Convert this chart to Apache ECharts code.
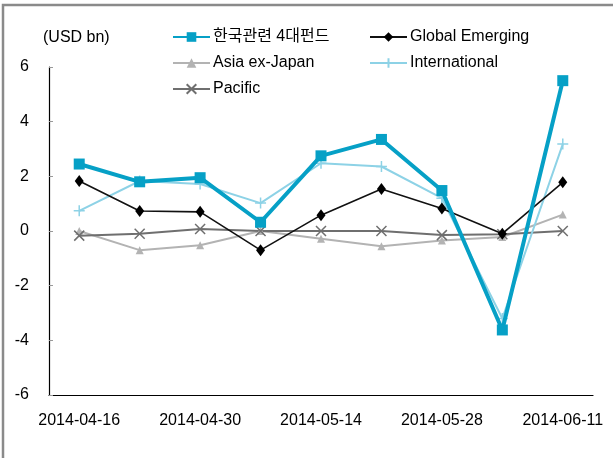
<!DOCTYPE html>
<html>
<head>
<meta charset="utf-8">
<script src="https://cdn.jsdelivr.net/npm/echarts@6/dist/echarts.min.js"></script>
<style>
    html, body { margin: 0; padding: 0; background: #fff; }
    #main { width: 613px; height: 458px; }
</style>
</head>
<body>
<div id="main"></div>
<script>
// weekly dates, labels shown every 2nd week
const dates = ['2014-04-16', '2014-04-23', '2014-04-30', '2014-05-07', '2014-05-14',
               '2014-05-21', '2014-05-28', '2014-06-04', '2014-06-11'];
const korea4 = [2.45, 1.8, 1.95, 0.32, 2.75, 3.35, 1.48, -3.62, 5.5];
const globalEm = [1.83, 0.73, 0.7, -0.7, 0.58, 1.54, 0.82, -0.1, 1.78];
const asiaExJp = [0.0, -0.7, -0.52, 0.0, -0.28, -0.56, -0.35, -0.22, 0.6];
const intl = [0.74, 1.83, 1.72, 1.02, 2.48, 2.36, 1.2, -3.2, 3.18];
const pacific = [-0.17, -0.1, 0.07, 0.0, 0.0, 0.0, -0.15, -0.12, 0.0];
const yTicks = [-6, -4, -2, 0, 2, 4, 6];

const FONT = '"Liberation Sans", Arial, "Noto Sans CJK KR", sans-serif';
const plusPath = 'path://M5,0L5,10M0,5L10,5';
const crossPath = 'path://M0,0L10,10M10,0L0,10';

const chart = echarts.init(document.getElementById('main'));

const legendText = { fontSize: 16, color: '#000', fontFamily: FONT, padding: [0, 0, 0, -2] };

const option = {
    animation: false,
    textStyle: { fontFamily: FONT },
    graphic: [
        {
            // outer frame (only left / top edges visible)
            type: 'rect',
            shape: { x: 3, y: 5, width: 800, height: 800 },
            style: { fill: 'none', stroke: '#8a8a8a', lineWidth: 2.5 },
            silent: true
        },
        {
            type: 'text',
            left: 43, top: 30,
            style: { text: '(USD bn)', font: '16px ' + FONT, fill: '#000' }
        }
    ],
    legend: [
        {
            data: ['한국관련 4대펀드', 'Asia ex-Japan', 'Pacific'],
            orient: 'vertical',
            left: 167, top: 24,
            itemWidth: 37, itemHeight: 12, itemGap: 10,
            textStyle: legendText
        },
        {
            data: ['Global Emerging', 'International'],
            orient: 'vertical',
            left: 364, top: 24,
            itemWidth: 37, itemHeight: 12, itemGap: 10,
            textStyle: legendText
        }
    ],
    grid: { left: 49, right: 20, top: 67, bottom: 63 },
    xAxis: [
        {
            type: 'category',
            data: dates,
            boundaryGap: true,
            axisLine: { show: false },
            axisTick: { show: false },
            axisLabel: { interval: 1, fontSize: 16, color: '#000', margin: 18, fontFamily: FONT }
        },
        {
            type: 'category',
            data: dates,
            position: 'bottom',
            boundaryGap: true,
            axisLine: { onZero: true, lineStyle: { color: '#000', width: 1.2 } },
            axisTick: { inside: true, length: 5, lineStyle: { color: '#888' } },
            axisLabel: { show: false }
        }
    ],
    yAxis: {
        type: 'value',
        min: yTicks[0], max: yTicks[yTicks.length - 1], interval: 2,
        splitLine: { show: false },
        axisLine: { show: true, lineStyle: { color: '#000', width: 1.2 } },
        axisTick: { show: true, inside: true, length: 4, lineStyle: { color: '#999' } },
        axisLabel: { fontSize: 16, color: '#000', margin: 20, fontFamily: FONT }
    },
    series: [
        {
            name: 'Global Emerging', type: 'line', data: globalEm, z: 4,
            symbol: 'diamond', symbolSize: [9, 12],
            lineStyle: { color: '#111', width: 1.6 },
            itemStyle: { color: '#000' }
        },
        {
            name: 'Asia ex-Japan', type: 'line', data: asiaExJp, z: 2,
            symbol: 'triangle', symbolSize: 8,
            lineStyle: { color: '#b3b3b3', width: 2 },
            itemStyle: { color: '#b3b3b3' }
        },
        {
            name: 'International', type: 'line', data: intl, z: 3,
            symbol: plusPath, symbolSize: 11,
            lineStyle: { color: '#8dd2e6', width: 2 },
            itemStyle: { color: '#8dd2e6', borderColor: '#8dd2e6', borderWidth: 1.5 }
        },
        {
            name: 'Pacific', type: 'line', data: pacific, z: 2,
            symbol: crossPath, symbolSize: 10,
            lineStyle: { color: '#6f6f6f', width: 2 },
            itemStyle: { color: '#6f6f6f', borderColor: '#6f6f6f', borderWidth: 1.5 }
        },
        {
            name: '한국관련 4대펀드', type: 'line', data: korea4, z: 5,
            symbol: 'rect', symbolSize: 11,
            lineStyle: { color: '#06a0c6', width: 4 },
            itemStyle: { color: '#06a0c6' }
        }
    ]
};

chart.setOption(option);
</script>
</body>
</html>
